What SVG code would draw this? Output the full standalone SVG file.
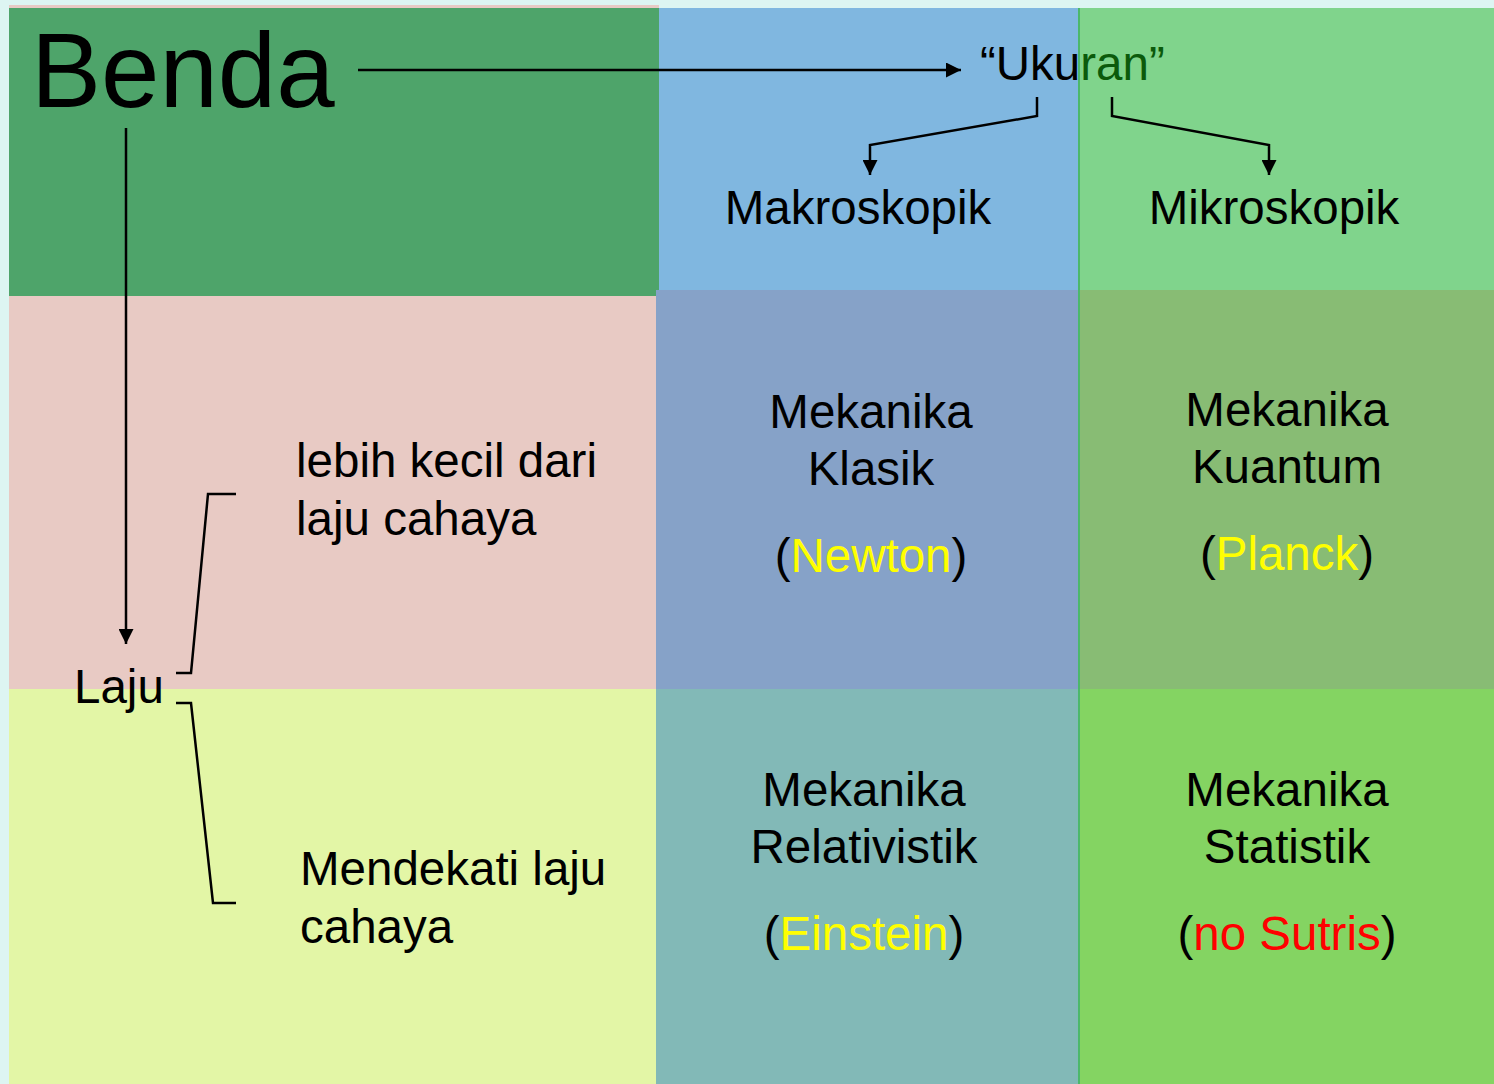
<svg xmlns="http://www.w3.org/2000/svg" width="1494" height="1084" viewBox="0 0 1494 1084">
<style>
text{font-family:"Liberation Sans",Arial,sans-serif;fill:#000}
.t{font-size:47.5px}
.c{text-anchor:middle}
.y{fill:#FFFF00}
.r{fill:#FF0000}
.ln{fill:none;stroke:#000;stroke-width:2.5}
</style>
<defs>
<marker id="ah" viewBox="0 0 10 10" refX="10" refY="5" markerWidth="6" markerHeight="6" orient="auto" markerUnits="strokeWidth">
<path d="M0,0 L10,5 L0,10 Z" fill="#000"/>
</marker>
</defs>
<rect width="1494" height="1084" fill="#DDF5F2"/>
<g id="cells">
<rect x="9" y="5" width="650" height="684" fill="#E8CAC4"/>
<rect x="9" y="8" width="650" height="288" fill="#4EA46A"/>
<rect x="659" y="8" width="420" height="282" fill="#80B7E0"/>
<rect x="1079" y="8" width="415" height="282" fill="#80D48C"/>
<rect x="656" y="290" width="423" height="399" fill="#86A2C8"/>
<rect x="1079" y="290" width="415" height="399" fill="#88BC74"/>
<rect x="9" y="689" width="647" height="395" fill="#E3F6A6"/>
<rect x="656" y="689" width="423" height="395" fill="#82B9B7"/>
<rect x="1079" y="689" width="415" height="395" fill="#84D462"/>
<rect x="1078" y="8" width="2" height="1076" fill="#4CB86A"/>
</g>
<g id="connectors">
<line class="ln" x1="358" y1="70" x2="961" y2="70" marker-end="url(#ah)"/>
<polyline class="ln" points="1037,97 1037,116 870,145 870,175" marker-end="url(#ah)"/>
<polyline class="ln" points="1112,97 1112,116 1269,145 1269,175" marker-end="url(#ah)"/>
<line class="ln" x1="126" y1="128" x2="126" y2="644" marker-end="url(#ah)"/>
<polyline class="ln" points="176,673 191,673 208,494 236,494"/>
<polyline class="ln" points="176,703 191,703 213,903 236,903"/>
</g>
<g id="benda"><text x="31" y="107" style="font-size:105px">Benda</text></g>
<g id="ukuran"><text x="980" y="80" class="t">“Uku<tspan fill="#0B5A0B">ran”</tspan></text></g>
<g id="makroskopik"><text x="858" y="224" class="t c">Makroskopik</text></g>
<g id="mikroskopik"><text x="1274" y="224" class="t c">Mikroskopik</text></g>
<g id="laju"><text x="74" y="703" class="t">Laju</text></g>
<g id="lebih-kecil"><text x="296" y="477" class="t">lebih kecil dari</text><text x="296" y="535" class="t">laju cahaya</text></g>
<g id="mendekati"><text x="300" y="885" class="t">Mendekati laju</text><text x="300" y="943" class="t">cahaya</text></g>
<g id="klasik"><text x="871" y="428" class="t c">Mekanika</text><text x="871" y="485" class="t c">Klasik</text><text x="871" y="572" class="t c">(<tspan class="y">Newton</tspan>)</text></g>
<g id="kuantum"><text x="1287" y="426" class="t c">Mekanika</text><text x="1287" y="483" class="t c">Kuantum</text><text x="1287" y="570" class="t c">(<tspan class="y">Planck</tspan>)</text></g>
<g id="relativistik"><text x="864" y="806" class="t c">Mekanika</text><text x="864" y="863" class="t c">Relativistik</text><text x="864" y="950" class="t c">(<tspan class="y">Einstein</tspan>)</text></g>
<g id="statistik"><text x="1287" y="806" class="t c">Mekanika</text><text x="1287" y="863" class="t c">Statistik</text><text x="1287" y="950" class="t c">(<tspan class="r">no Sutris</tspan>)</text></g>
</svg>
